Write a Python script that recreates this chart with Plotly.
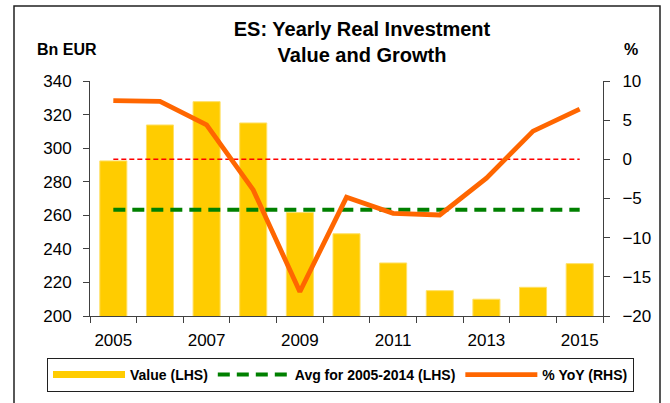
import plotly.graph_objects as go

years = [2005, 2006, 2007, 2008, 2009, 2010, 2011, 2012, 2013, 2014, 2015]
value_bn = [292.4, 313.8, 327.7, 315.0, 261.6, 249.0, 231.6, 215.1, 210.0, 217.1, 231.2]
yoy_pct = [7.5, 7.4, 4.4, -3.9, -16.9, -4.85, -6.9, -7.1, -2.4, 3.6, 6.4]
avg_2005_2014 = 263.3
zero_line = 0
tick_years = [2005, 2007, 2009, 2011, 2013, 2015]

FONT = "Liberation Sans, Arial, sans-serif"
L, R, T, B = 90, 67, 81, 87
W, H = 670, 403
pw, ph = W - L - R, H - T - B

def px_x(p):
    return (p - L) / pw

def px_y(p):
    return (H - B - p) / ph

fig = go.Figure()
fig.add_trace(go.Bar(x=years, y=value_bn, width=0.58,
                     marker=dict(color="#FFCC00", line=dict(color="#FFE066", width=1)),
                     name="Value (LHS)", showlegend=False, yaxis="y"))
fig.add_trace(go.Scatter(x=[None], y=[None], mode="lines", line=dict(color="#FFCC00", width=7),
                         name="<b>Value (LHS)</b>"))
fig.add_trace(go.Scatter(x=[years[0], years[-1]], y=[avg_2005_2014] * 2, mode="lines",
                         line=dict(color="#008000", width=4, dash="12px,7px"),
                         name="<b>Avg for 2005-2014 (LHS)</b>", yaxis="y"))
fig.add_trace(go.Scatter(x=[years[0], years[-1]], y=[zero_line] * 2, mode="lines",
                         line=dict(color="#FF0000", width=1.5, dash="5px,3px"), showlegend=False, yaxis="y2"))
fig.add_trace(go.Scatter(x=years, y=yoy_pct, mode="lines", line=dict(color="#FF6600", width=4.8),
                         name="<b>% YoY (RHS)</b>", yaxis="y2"))

tickfont = dict(family=FONT, size=17, color="black")
axis_common = dict(showgrid=False, zeroline=False, showline=True, linecolor="#404040", linewidth=1,
                   ticks="outside", ticklen=6, tickcolor="#404040", tickfont=tickfont, automargin=False)

fig.update_layout(
    width=W, height=H,
    margin=dict(l=L, r=R, t=T, b=B, pad=0, autoexpand=False),
    paper_bgcolor="white", plot_bgcolor="white",
    font=dict(family=FONT, color="black"),
    showlegend=True,
    hovermode=False,
    title=dict(text="<b>ES: Yearly Real Investment<br>Value and Growth</b>", x=362 / W, xanchor="center",
               y=1 - 36 / H, yanchor="middle", font=dict(family=FONT, size=20, color="black")),
    xaxis=dict(range=[2004.5, 2015.5], tickvals=tick_years, ticktext=[str(y) for y in tick_years],
               showgrid=False, zeroline=False, showline=True, linecolor="#404040", linewidth=1,
               ticks="", tickfont=tickfont, automargin=False, ticklabelstandoff=9,
               minor=dict(tickvals=[y - 0.5 for y in years] + [years[-1] + 0.5], ticks="outside", ticklen=6,
                          tickcolor="#404040", showgrid=False)),
    yaxis=dict(range=[200, 340], dtick=20, ticklabelstandoff=8, **axis_common),
    yaxis2=dict(range=[-20, 10], dtick=5, overlaying="y", side="right", ticklabelstandoff=9, **axis_common),
    legend=dict(orientation="h", xref="paper", yref="paper", x=px_x(47), xanchor="left",
                y=px_y(358), yanchor="top",
                bordercolor="#202020", borderwidth=1, bgcolor="white",
                font=dict(family=FONT, size=14, color="black"), itemwidth=72, traceorder="normal"),
    annotations=[
        dict(text="<b>Bn EUR</b>", x=px_x(67), y=px_y(50), xref="paper", yref="paper", showarrow=False,
             font=dict(family=FONT, size=16, color="black"), xanchor="center", yanchor="middle"),
        dict(text="<b>%</b>", x=px_x(631), y=px_y(50), xref="paper", yref="paper", showarrow=False,
             font=dict(family=FONT, size=16, color="black"), xanchor="center", yanchor="middle"),
    ],
    shapes=[dict(type="rect", xref="paper", yref="paper", x0=px_x(14), x1=px_x(660), y0=px_y(440), y1=px_y(6),
                 line=dict(color="#202020", width=1.5), layer="below")],
)
fig.write_html("out.html", config={"displayModeBar": False},
               post_script="document.body.style.margin='0';document.body.style.overflow='hidden';")
